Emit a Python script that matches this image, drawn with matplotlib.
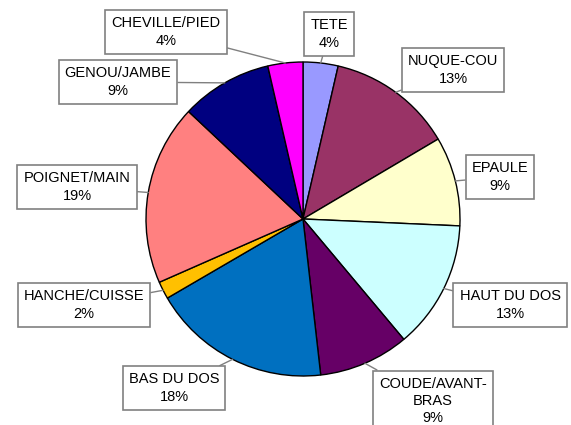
import numpy as np
import matplotlib
matplotlib.use("Agg")
import matplotlib.pyplot as plt

plt.rcParams['font.family'] = ['Liberation Sans', 'DejaVu Sans']

# slices, clockwise from the top
parts = ['TETE', 'NUQUE-COU', 'EPAULE', 'HAUT DU DOS', 'COUDE/AVANT-\nBRAS',
         'BAS DU DOS', 'HANCHE/CUISSE', 'POIGNET/MAIN', 'GENOU/JAMBE', 'CHEVILLE/PIED']
shares = [3.6, 12.9, 9.2, 13.2, 9.3, 18.4, 1.8, 18.6, 9.4, 3.6]
colors = ['#9999FF', '#993366', '#FFFFCC', '#CCFFFF', '#660066',
          '#0070C0', '#FFC000', '#FF8080', '#000080', '#FF00FF']

# label box centres (pixel coords, y from top)
label_pos = [(329, 34), (453, 70), (500, 177), (510, 305), (433, 401),
             (174, 388), (84, 305), (77, 187), (118, 82), (166, 32)]

W, H = 571, 425
cx, cy, r = 303, H - 219, 157

fig = plt.figure(figsize=(W / 100, H / 100), dpi=100)
ax = fig.add_axes([0, 0, 1, 1])
ax.axis('off')

wedges, _ = ax.pie(shares, colors=colors, startangle=90, counterclock=False,
                   center=(cx, cy), radius=r,
                   wedgeprops=dict(edgecolor='black', linewidth=1.0))
ax.set_xlim(0, W)
ax.set_ylim(0, H)
ax.set_aspect('auto')

total = sum(shares)
for w, name, val, (lx, ly) in zip(wedges, parts, shares, label_pos):
    mid = np.deg2rad((w.theta1 + w.theta2) / 2)
    px = cx + r * np.cos(mid)
    py = cy + r * np.sin(mid)
    pct = round(val / total * 100)
    ax.annotate(f"{name}\n{pct}%", xy=(px, py), xytext=(lx, H - ly),
                ha='center', va='center', fontsize=10.5, linespacing=1.3,
                color='black',
                bbox=dict(boxstyle='square,pad=0.42', facecolor='white',
                          edgecolor='#808080', linewidth=1.2),
                arrowprops=dict(arrowstyle='-', color='#808080', linewidth=1.0,
                                shrinkA=0, shrinkB=0))

fig.savefig('out.png', dpi=100)
